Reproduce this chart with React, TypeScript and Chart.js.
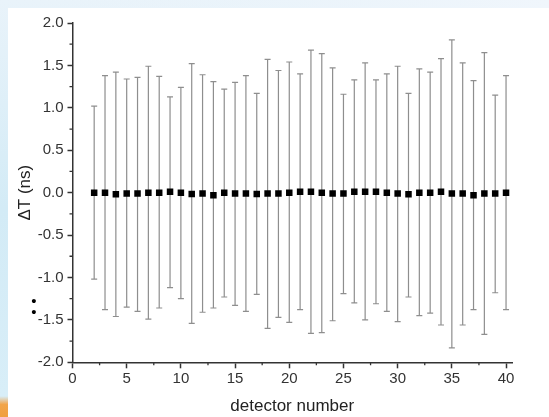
import React, { useEffect, useRef } from 'react';
import { Chart, registerables } from 'chart.js';

Chart.register(...registerables);

// ---- data ----
const detectors = [2, 3, 4, 5, 6, 7, 8, 9, 10, 11, 12, 13, 14, 15, 16, 17, 18, 19, 20, 21, 22, 23, 24, 25, 26, 27, 28, 29, 30, 31, 32, 33, 34, 35, 36, 37, 38, 39, 40];
const deltaT = [0.0, 0.0, -0.02, -0.01, -0.01, 0.0, 0.0, 0.01, 0.0, -0.015, -0.01, -0.03, 0.0, -0.01, -0.01, -0.015, -0.01, -0.01, 0.0, 0.01, 0.01, 0.0, -0.01, -0.01, 0.01, 0.01, 0.01, 0.0, -0.01, -0.02, 0.0, 0.0, 0.01, -0.01, -0.01, -0.03, -0.01, -0.01, 0.0];
const barTop = [1.02, 1.38, 1.42, 1.34, 1.36, 1.49, 1.37, 1.13, 1.24, 1.52, 1.39, 1.31, 1.22, 1.30, 1.38, 1.17, 1.57, 1.44, 1.54, 1.40, 1.68, 1.64, 1.47, 1.16, 1.33, 1.53, 1.33, 1.40, 1.49, 1.17, 1.46, 1.42, 1.58, 1.80, 1.53, 1.32, 1.65, 1.15, 1.38];
const barBottom = [-1.02, -1.38, -1.46, -1.35, -1.40, -1.49, -1.36, -1.12, -1.25, -1.54, -1.41, -1.36, -1.23, -1.33, -1.40, -1.20, -1.60, -1.47, -1.53, -1.38, -1.66, -1.65, -1.51, -1.19, -1.30, -1.50, -1.31, -1.40, -1.52, -1.23, -1.45, -1.42, -1.56, -1.83, -1.56, -1.38, -1.67, -1.18, -1.38];
const xTicks = [0, 5, 10, 15, 20, 25, 30, 35, 40];
const xMinorTicks = [2.5, 7.5, 12.5, 17.5, 22.5, 27.5, 32.5, 37.5];
const yTicks = [-2.0, -1.5, -1.0, -0.5, 0.0, 0.5, 1.0, 1.5, 2.0];
const yMinorTicks = [-1.75, -1.25, -0.75, -0.25, 0.25, 0.75, 1.25, 1.75];
const xTitle = 'detector number';
const yTitle = 'ΔT (ns)';

const W = 549;
const H = 417;
const FONT = "'Liberation Sans', Arial, sans-serif";
const AXIS = '#333333';

const backgroundPlugin = {
  id: 'bg',
  beforeDraw(chart: any) {
    const { ctx } = chart;
    ctx.save();
    const g = ctx.createLinearGradient(0, 0, 0, H);
    g.addColorStop(0, '#e9f3fa');
    g.addColorStop(0.5, '#d3ebf6');
    g.addColorStop(0.95, '#d8eef8');
    g.addColorStop(0.97, '#f2a54a');
    g.addColorStop(1, '#f0a040');
    ctx.fillStyle = g;
    ctx.fillRect(0, 0, W, H);
    const g2 = ctx.createLinearGradient(0, 0, W, 0);
    g2.addColorStop(0, 'rgba(233,243,250,0)');
    g2.addColorStop(1, 'rgba(240,246,252,1)');
    ctx.fillStyle = g2;
    ctx.fillRect(8, 0, W - 8, 8);
    ctx.fillStyle = '#ffffff';
    ctx.fillRect(8, 8, W - 8, H - 8);
    ctx.restore();
  },
};

const errorBarPlugin = {
  id: 'errorBars',
  beforeDatasetsDraw(chart: any) {
    const { ctx } = chart;
    const x = chart.scales.x;
    const y = chart.scales.y;
    ctx.save();
    ctx.strokeStyle = '#8e8e8e';
    ctx.lineWidth = 1.2;
    detectors.forEach((d, i) => {
      const px = x.getPixelForValue(d);
      const pt = y.getPixelForValue(barTop[i]);
      const pb = y.getPixelForValue(barBottom[i]);
      ctx.beginPath();
      ctx.moveTo(px, pt);
      ctx.lineTo(px, pb);
      ctx.moveTo(px - 3, pt);
      ctx.lineTo(px + 3, pt);
      ctx.moveTo(px - 3, pb);
      ctx.lineTo(px + 3, pb);
      ctx.stroke();
    });
    ctx.restore();
  },
};

const minorTickPlugin = {
  id: 'minorTicks',
  afterDraw(chart: any) {
    const { ctx } = chart;
    const x = chart.scales.x;
    const y = chart.scales.y;
    const area = chart.chartArea;
    ctx.save();
    ctx.strokeStyle = AXIS;
    ctx.lineWidth = 1.3;
    ctx.beginPath();
    xMinorTicks.forEach((v) => {
      const px = x.getPixelForValue(v);
      ctx.moveTo(px, area.bottom);
      ctx.lineTo(px, area.bottom + 3);
    });
    yMinorTicks.forEach((v) => {
      const py = y.getPixelForValue(v);
      ctx.moveTo(area.left, py);
      ctx.lineTo(area.left - 3, py);
    });
    ctx.stroke();
    // stray bullet marks at the left
    ctx.fillStyle = '#000';
    ctx.font = `15px ${FONT}`;
    ctx.textAlign = 'center';
    ctx.textBaseline = 'middle';
    ctx.fillText('•', 34, 302);
    ctx.fillText('•', 34, 313);
    ctx.restore();
  },
};

export default function App() {
  const ref = useRef<HTMLCanvasElement | null>(null);

  useEffect(() => {
    if (!ref.current) return;
    const chart = new Chart(ref.current, {
      type: 'scatter',
      data: {
        datasets: [
          {
            label: 'ΔT',
            data: detectors.map((d, i) => ({ x: d, y: deltaT[i] })),
            pointStyle: 'rect',
            pointRadius: 4.6,
            pointHoverRadius: 4.6,
            backgroundColor: '#000',
            borderColor: '#000',
            borderWidth: 0,
            showLine: false,
          },
        ],
      },
      options: {
        responsive: false,
        animation: false,
        events: [],
        layout: { padding: { top: 23, right: 37, left: 0, bottom: 0 } },
        plugins: {
          legend: { display: false },
          tooltip: { enabled: false },
          title: { display: false },
        },
        scales: {
          x: {
            type: 'linear',
            min: 0,
            max: 40.55,
            afterBuildTicks: (s: any) => {
              s.ticks = xTicks.map((v) => ({ value: v }));
            },
            afterFit: (s: any) => {
              s.height = H - 362.3;
            },
            ticks: {
              color: AXIS,
              font: { family: FONT, size: 15 },
              padding: 2,
              maxRotation: 0,
              autoSkip: false,
              callback: (v: any) => String(v),
            },
            grid: {
              drawOnChartArea: false,
              drawTicks: true,
              tickLength: 6,
              tickColor: AXIS,
              tickWidth: 1.5,
            },
            border: { display: true, color: AXIS, width: 1.5 },
            title: {
              display: true,
              text: xTitle,
              color: '#222',
              font: { family: FONT, size: 17 },
              padding: { top: 0, bottom: 0 },
            },
          },
          y: {
            type: 'linear',
            min: -2,
            max: 2,
            afterBuildTicks: (s: any) => {
              s.ticks = yTicks.map((v) => ({ value: v }));
            },
            afterFit: (s: any) => {
              s.width = 72.5;
            },
            ticks: {
              color: AXIS,
              font: { family: FONT, size: 15 },
              padding: 4,
              autoSkip: false,
              callback: (v: any) => Number(v).toFixed(1),
            },
            grid: {
              drawOnChartArea: false,
              drawTicks: true,
              tickLength: 5,
              tickColor: AXIS,
              tickWidth: 1.5,
            },
            border: { display: true, color: AXIS, width: 1.5 },
            title: {
              display: true,
              text: yTitle,
              color: '#222',
              font: { family: FONT, size: 17 },
              padding: { top: 15, bottom: 0 },
            },
          },
        },
      },
      plugins: [backgroundPlugin, errorBarPlugin, minorTickPlugin],
    } as any);
    return () => chart.destroy();
  }, []);

  return (
    <div style={{ position: 'fixed', left: 0, top: 0, width: W, height: H }}>
      <canvas ref={ref} width={W} height={H} style={{ width: W, height: H, display: 'block' }} />
    </div>
  );
}
